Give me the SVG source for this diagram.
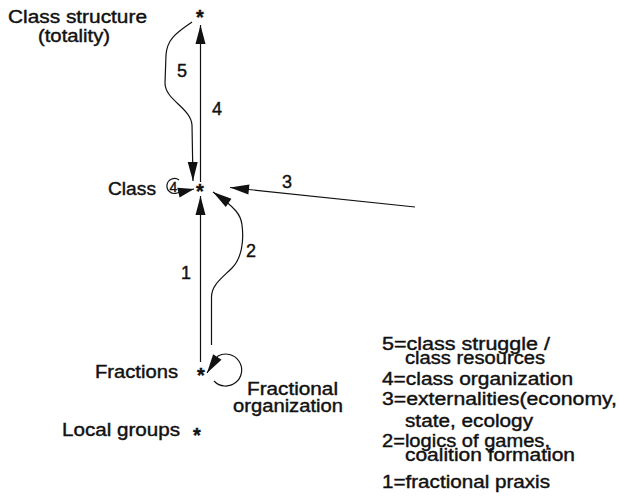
<svg xmlns="http://www.w3.org/2000/svg" width="619" height="500" viewBox="0 0 619 500">
<style>
text{font-family:"Liberation Sans",Arial,sans-serif;font-size:17.5px;fill:#111;stroke:#111;stroke-width:0.4}
.lbl{font-size:18px}
.star{font-size:20px;font-weight:bold;text-anchor:middle}
.c{fill:none;stroke:#111;stroke-width:1.2}
</style>
<defs>
<marker id="ah" viewBox="-20 -6 21 12" refX="0" refY="0" markerWidth="21" markerHeight="12" markerUnits="userSpaceOnUse" orient="auto"><path d="M0,0 L-19,-5 L-19,5 Z" fill="#111"/></marker>
<marker id="ahs" viewBox="-17 -6 18 12" refX="0" refY="0" markerWidth="18" markerHeight="12" markerUnits="userSpaceOnUse" orient="auto"><path d="M0,0 L-16,-5 L-16,5 Z" fill="#111"/></marker>
</defs>
<rect width="619" height="500" fill="#fff"/>
<g id="connectors">
<path id="e4" class="c" d="M200.5,182 L200.5,25" marker-end="url(#ah)"/>
<path id="e1" class="c" d="M200.5,362 L200.5,196" marker-end="url(#ah)"/>
<path id="e3" class="c" d="M415,207 L230,187.5" marker-end="url(#ah)"/>
<path id="e2" class="c" d="M211.5,345 L211.5,297 C211.5,285 222,278 232,268 C242,258 244,240 242,225 C241,215 236,208 213,192" marker-end="url(#ah)"/>
<path id="e5" class="c" d="M192,22 C178,32 167,38 166,55 L165,83 C165,100 191,108 192,125 L193,181" marker-end="url(#ah)"/>
<path id="loopClass" class="c" d="M179,180 A7.5,7.5 0 1 0 177,193 L194,189" marker-end="url(#ahs)"/>
<path id="loopFrac" class="c" d="M214,381 A16,16 0 1 0 218,356 L207,373" marker-end="url(#ah)"/>
<text x="177" y="77" class="lbl">5</text>
<text x="212" y="115" class="lbl">4</text>
<text x="282" y="188" class="lbl">3</text>
<text x="246" y="257" class="lbl">2</text>
<text x="169.5" y="191.5" style="font-size:14px">4</text>
<text x="181" y="279" class="lbl">1</text>
</g>
<g id="n-structure">
<text x="200" y="24" class="star">*</text>
<text x="8" y="23" textLength="139" lengthAdjust="spacingAndGlyphs">Class structure</text>
<text x="38" y="42" textLength="72" lengthAdjust="spacingAndGlyphs">(totality)</text>
</g>
<g id="n-class">
<text x="200" y="198" class="star">*</text>
<text x="108" y="195" textLength="48" lengthAdjust="spacingAndGlyphs">Class</text>
</g>
<g id="n-fractions">
<text x="201" y="382" class="star">*</text>
<text x="95" y="378" textLength="83" lengthAdjust="spacingAndGlyphs">Fractions</text>
<text x="247" y="395" textLength="91" lengthAdjust="spacingAndGlyphs">Fractional</text>
<text x="233" y="412" textLength="110" lengthAdjust="spacingAndGlyphs">organization</text>
</g>
<g id="n-local">
<text x="197" y="442" class="star">*</text>
<text x="62" y="436" textLength="118" lengthAdjust="spacingAndGlyphs">Local groups</text>
</g>
<g id="legend">
<text x="382" y="350" textLength="168" lengthAdjust="spacingAndGlyphs">5=class struggle /</text>
<text x="405" y="364" textLength="140" lengthAdjust="spacingAndGlyphs">class resources</text>
<text x="382" y="385" textLength="191" lengthAdjust="spacingAndGlyphs">4=class organization</text>
<text x="382" y="405" textLength="235" lengthAdjust="spacingAndGlyphs">3=externalities(economy,</text>
<text x="405" y="427" textLength="128" lengthAdjust="spacingAndGlyphs">state, ecology</text>
<text x="382" y="447" textLength="168" lengthAdjust="spacingAndGlyphs">2=logics of games,</text>
<text x="405" y="461" textLength="170" lengthAdjust="spacingAndGlyphs">coalition formation</text>
<text x="382" y="488" textLength="168" lengthAdjust="spacingAndGlyphs">1=fractional praxis</text>
</g>
</svg>
